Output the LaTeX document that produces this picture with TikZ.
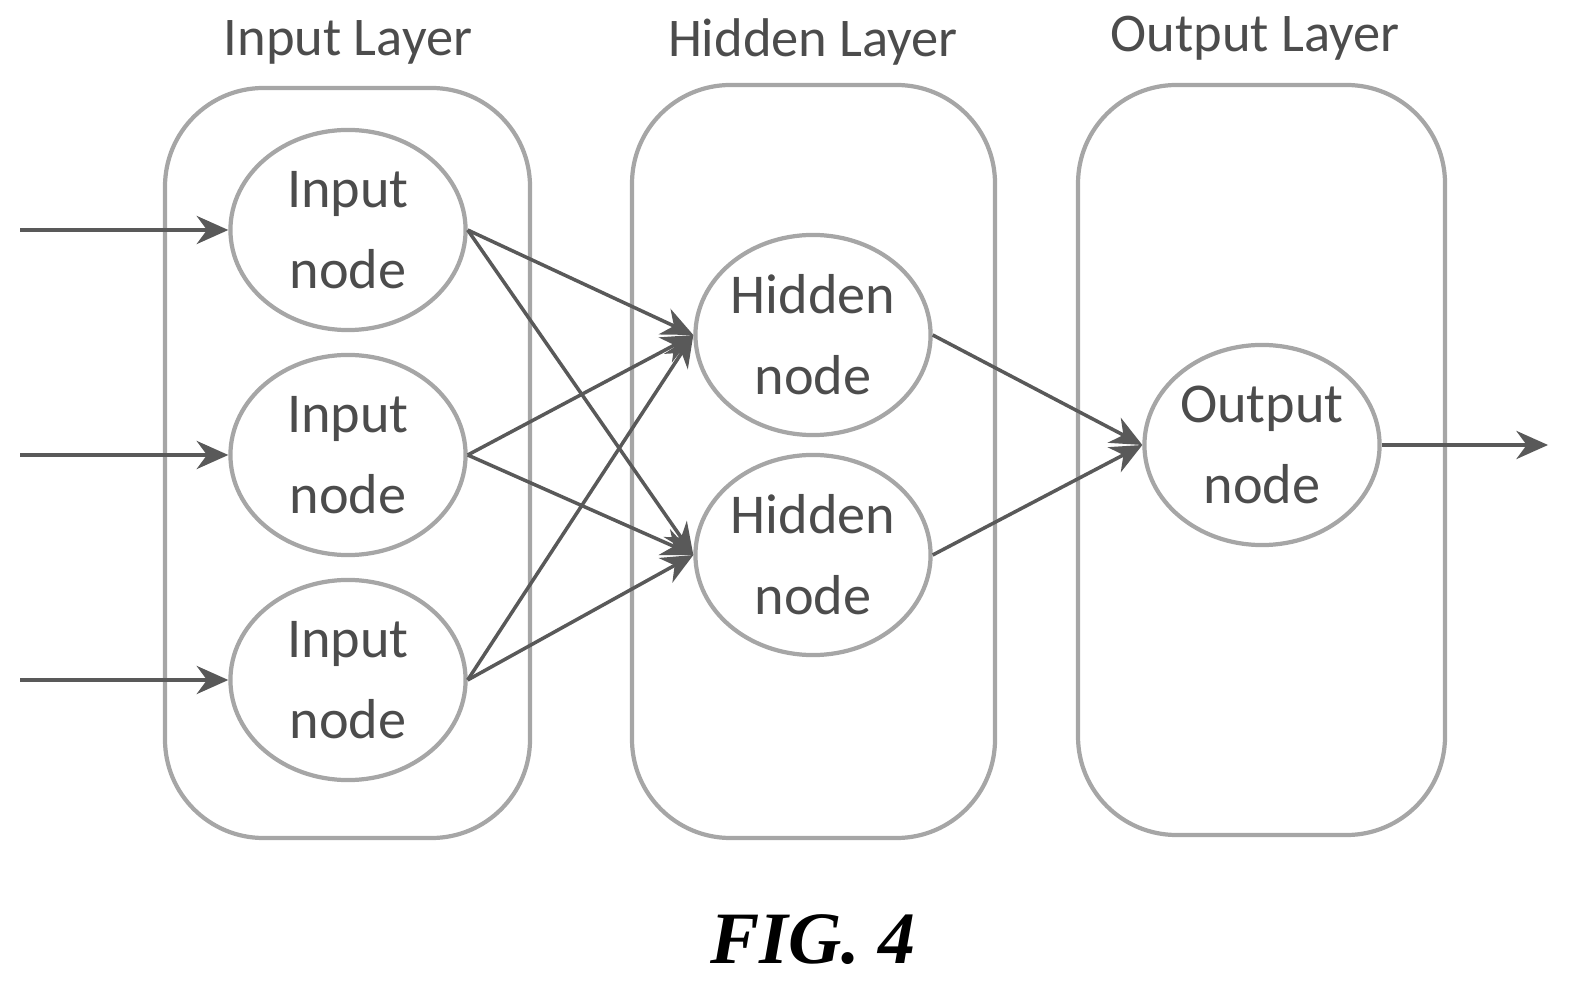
\documentclass[tikz,border=0pt]{standalone}
\usepackage{fontspec}
\setmainfont{Carlito}
\newfontfamily\figfont{Liberation Serif}
\usetikzlibrary{arrows.meta,shapes.geometric}
\begin{document}
\begin{tikzpicture}[x=0.01cm,y=-0.01cm,
  lay/.style={draw=gray!70,line width=1.2pt,rounded corners=28pt},
  nd/.style={draw=gray!70,line width=1.2pt,ellipse,minimum width=2.35cm,minimum height=2.0cm,inner sep=0pt,font=\fontsize{16}{23}\selectfont,text=gray!60!black,align=center},
  ttl/.style={font=\fontsize{15.5}{19}\selectfont,text=gray!60!black},
  ar/.style={draw=gray!70!black,line width=1pt,-{Stealth[length=9pt,width=8pt]}}]
\useasboundingbox (0,0) rectangle (1586,992);
\draw[lay] (165,88) rectangle (530,838);
\draw[lay] (632,85) rectangle (995,838);
\draw[lay] (1078,85) rectangle (1445,835);
\node[ttl] (t1) at (348,42) {Input Layer};
\node[ttl] (t2) at (813,42) {Hidden Layer};
\node[ttl] (t3) at (1255,38) {Output Layer};
\foreach \n/\y in {i1/230,i2/455,i3/680}{
  \node[nd] (\n) at (348,\y) {Input\\node};}
\foreach \n/\y in {h1/335,h2/555}{
  \node[nd] (\n) at (813,\y) {Hidden\\node};}
\node[nd] (o) at (1262,445) {Output\\node};
\coordinate (a1) at (20,230);
\coordinate (a2) at (20,455);
\coordinate (a3) at (20,680);
\coordinate (e) at (1548,445);
\draw[ar] (a1) -- (i1.west);
\draw[ar] (a2) -- (i2.west);
\draw[ar] (a3) -- (i3.west);
\foreach \i in {i1,i2,i3}{
  \draw[ar] (\i.east) -- (h1.west);
  \draw[ar] (\i.east) -- (h2.west);}
\draw[ar] (h1.east) -- (o.west);
\draw[ar] (h2.east) -- (o.west);
\draw[ar] (o.east) -- (e);
\node[font=\figfont\bfseries\itshape\fontsize{21}{25}\selectfont] (fig) at (813,940) {FIG. 4};
\end{tikzpicture}
\end{document}
